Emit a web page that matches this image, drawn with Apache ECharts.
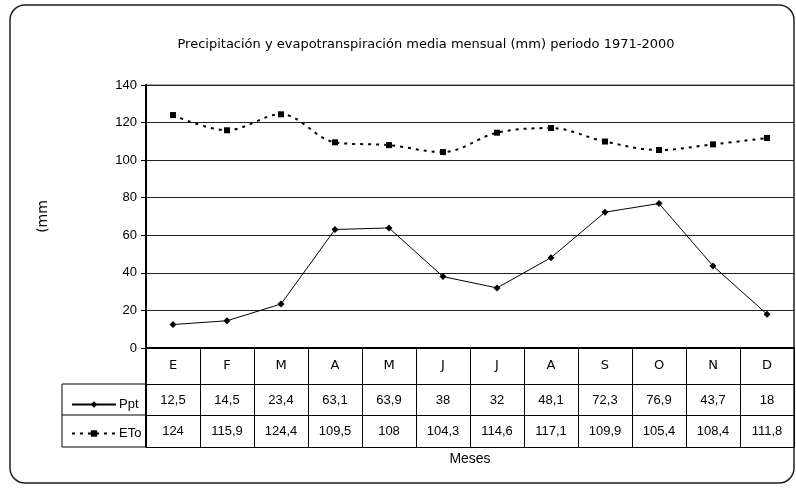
<!DOCTYPE html>
<html>
<head>
<meta charset="utf-8">
<script src="https://cdn.jsdelivr.net/npm/echarts@6/dist/echarts.min.js"></script>
<style>
  html, body { margin: 0; padding: 0; background: #fff; }
  #chart { width: 796px; height: 489px; }
</style>
</head>
<body>
<div id="chart"></div>
<script>
// datos de la figura
const meses = ['E', 'F', 'M', 'A', 'M', 'J', 'J', 'A', 'S', 'O', 'N', 'D']
const ppt = [12.5, 14.5, 23.4, 63.1, 63.9, 38, 32, 48.1, 72.3, 76.9, 43.7, 18]
const eto = [124, 115.9, 124.4, 109.5, 108, 104.3, 114.6, 117.1, 109.9, 105.4, 108.4, 111.8]
const yTicks = [0, 20, 40, 60, 80, 100, 120, 140]

const fmt = v => String(v).replace('.', ',') // coma decimal

const chart = echarts.init(document.getElementById('chart'))
const black = '#000'
const font = 'DejaVu Sans'

// ejes de la tabla (filas de valores)
const tableAxis = (data, offset, extra) => Object.assign({
  type: 'category',
  data: data,
  position: 'bottom',
  offset: offset,
  axisLine: { show: true, lineStyle: { color: black, width: 1 } },
  axisTick: { show: false },
  axisLabel: { interval: 0, margin: 10, color: black, fontSize: 13, fontFamily: 'Liberation Sans' },
  splitLine: { show: false }
}, extra || {})

chart.setOption({
  animation: false,
  title: {
    text: 'Precipitación y evapotranspiración media mensual (mm) periodo 1971-2000',
    left: 421,
    textAlign: 'center',
    top: 33,
    textStyle: { fontSize: 13, fontWeight: 'normal', color: black, fontFamily: font }
  },
  legend: {
    orient: 'vertical',
    left: 66,
    top: 393,
    itemWidth: 44,
    itemHeight: 8,
    itemGap: 16,
    textStyle: { fontSize: 13, color: black, fontFamily: 'Liberation Sans', padding: [0, 0, 0, -2] },
    data: ['Ppt', 'ETo']
  },
  grid: {
    left: 146, right: 2, top: 85, bottom: 141,
    show: true, borderColor: '#555', borderWidth: 1
  },
  xAxis: [
    {
      type: 'category',
      data: meses,
      boundaryGap: true,
      axisLine: { show: true, lineStyle: { color: black, width: 2 } },
      axisTick: { show: true, interval: 0, length: 99, lineStyle: { color: black, width: 1 } },
      axisLabel: { interval: 0, margin: 11, color: black, fontSize: 13, fontFamily: font },
      splitLine: { show: false }
    },
    tableAxis(ppt.map(fmt), 36),
    tableAxis(eto.map(fmt), 67),
    tableAxis(meses.map(() => ''), 99, {
      name: 'Meses',
      nameLocation: 'middle',
      nameGap: 12,
      nameMoveOverlap: false,
      axisLabel: { show: false },
      nameTextStyle: { fontSize: 14, color: black, fontFamily: 'Liberation Sans', verticalAlign: 'middle' }
    })
  ],
  yAxis: {
    type: 'value',
    min: yTicks[0],
    max: yTicks[yTicks.length - 1],
    interval: 20,
    name: '(mm',
    nameLocation: 'middle',
    nameGap: 96,
    nameMoveOverlap: false,
    nameTextStyle: { fontSize: 14, color: black, fontFamily: font },
    axisLine: { show: true, lineStyle: { color: black, width: 2 } },
    axisTick: { show: true, length: 5, lineStyle: { color: black } },
    axisLabel: { color: black, fontSize: 13, margin: 9, fontFamily: 'Liberation Sans' },
    splitLine: { show: true, lineStyle: { color: '#222', width: 1 } }
  },
  series: [
    {
      name: 'Ppt',
      type: 'line',
      data: ppt,
      symbol: 'diamond',
      symbolSize: 7,
      itemStyle: { color: black },
      lineStyle: { color: black, width: 1 }
    },
    {
      name: 'ETo',
      type: 'line',
      data: eto,
      smooth: 0.35,
      symbol: 'rect',
      symbolSize: 6,
      itemStyle: { color: black },
      lineStyle: { color: black, width: 2, type: [3, 5] }
    }
  ],
  graphic: [
    // marco exterior
    { type: 'rect', shape: { x: 10, y: 5, width: 784, height: 478, r: 15 },
      style: { fill: 'none', stroke: '#222', lineWidth: 1.5 }, z: -1 },
    // columna de leyenda de la tabla
    { type: 'polyline', shape: { points: [[146, 384], [62, 384], [62, 447], [146, 447]] },
      style: { fill: 'none', stroke: black, lineWidth: 1 } },
    { type: 'line', shape: { x1: 62, y1: 415, x2: 146, y2: 415 },
      style: { stroke: black, lineWidth: 1 } },
    { type: 'line', shape: { x1: 146, y1: 348, x2: 146, y2: 447 },
      style: { stroke: black, lineWidth: 2 } }
  ]
})
</script>
</body>
</html>
